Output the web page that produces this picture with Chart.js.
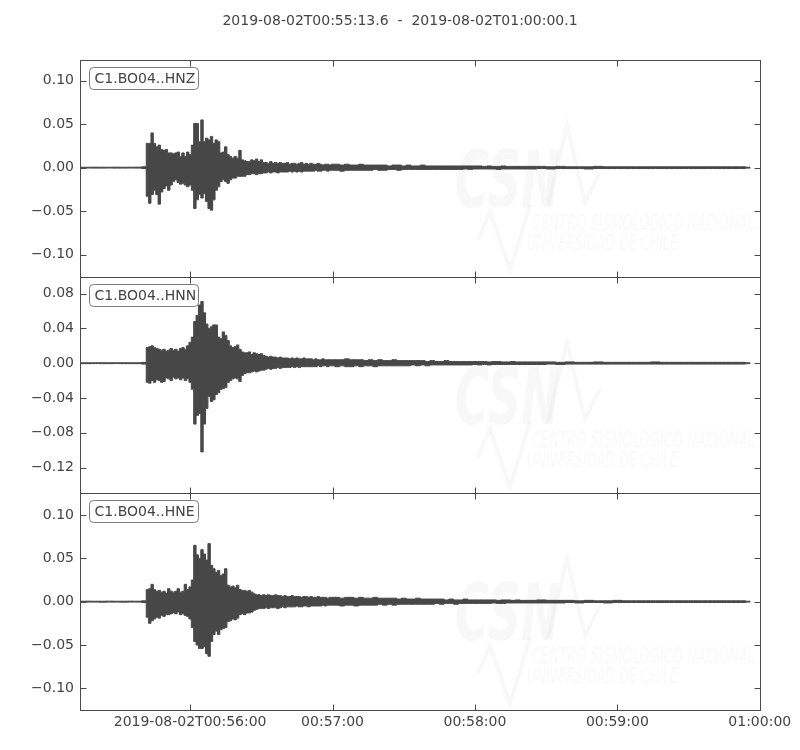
<!DOCTYPE html>
<html>
<head>
<meta charset="utf-8">
<script src="https://cdn.jsdelivr.net/npm/chart.js@4.4.1/dist/chart.umd.min.js"></script>
<style>
  html, body { margin: 0; padding: 0; background: #fff; }
  #wrap { width: 800px; height: 750px; }
</style>
</head>
<body>
<div id="wrap"><canvas id="sismo" width="800" height="750"></canvas></div>
<script>
// DATOS -------------------------------------------------------------
// segundos despues de 2019-08-02T00:55:00
const sampleSec = [14, 17, 20, 23, 26, 29, 32, 35, 38,
  41, 42, 43, 44, 45, 46, 47, 48, 49, 50,
  51, 52, 53, 54, 55, 56, 57, 58, 59, 60,
  61, 62, 63, 64, 65, 66, 67, 68, 69, 70,
  71, 72, 73, 74, 75, 76, 77, 78, 79, 80,
  81, 82, 83, 84, 85, 86, 87, 88, 89, 90,
  91, 92, 93, 94, 95, 96, 97, 98, 99, 100,
  101, 102, 103, 104, 105, 106, 107, 108, 109, 110,
  111, 112, 113, 114, 115, 116, 117, 118, 119, 120,
  122, 124, 126, 128, 130, 132, 134, 136, 138, 140,
  142, 144, 146, 148, 150, 152, 154, 156, 158, 160,
  162, 164, 166, 168, 170, 172, 174, 176, 178, 180,
  182, 184, 186, 188, 190, 192, 194, 196, 198, 200,
  204, 208, 212, 216, 220, 224, 228, 232, 236, 240, 244, 248,
  252, 256, 260, 264, 268, 272, 276, 280, 284, 288, 292, 296];

// picos por intervalo, en milesimas
const hnzMax = [0.5, 0.5, 0.6, 0.5, 0.5, 0.6, 0.5, 0.5, 0.6,
  1, 28, 28, 40, 28, 24, 26, 21, 20, 21,
  17, 17, 16, 17, 18, 13, 17, 13, 18, 15,
  26, 51, 51, 30, 55, 30, 34, 32, 36, 28,
  32, 30, 17, 18, 24, 15, 13, 11, 13, 11,
  20, 9, 8, 7, 7, 9, 8, 10, 7, 9,
  6, 6, 5, 7, 5, 6, 5, 6, 5, 5,
  6, 4, 5, 5, 4, 5, 6, 4, 5, 4,
  5, 4, 4, 5, 4, 3, 4, 4, 3, 4,
  4, 3, 4, 3, 3, 4, 3, 3, 3, 3, 3, 2, 3, 3, 2, 3, 2, 2, 3, 2,
  2, 2, 2, 2, 2, 2, 2, 2, 2, 2, 2, 1.5, 2, 1.5, 1.5, 2, 1.5, 1.5, 1.5, 1.5,
  1.5, 1.5, 1, 1.5, 1, 1, 1, 1.5, 1, 1, 1, 1, 1, 1, 1, 1, 1, 1, 1, 1, 1, 1, 1, 0.5];
const hnzMin = [-0.5, -0.4, -0.5, -0.5, -0.4, -0.5, -0.5, -0.4, -0.5,
  -1, -33, -41, -31, -26, -31, -42, -28, -24, -21,
  -26, -20, -16, -14, -17, -19, -18, -20, -22, -20,
  -26, -47, -37, -31, -35, -30, -39, -47, -49, -37,
  -26, -22, -16, -14, -16, -18, -14, -12, -12, -10,
  -10, -10, -10, -8, -8, -7, -7, -8, -7, -7,
  -6, -6, -5, -6, -5, -5, -6, -5, -5, -5,
  -5, -4, -5, -4, -5, -4, -5, -4, -4, -4,
  -4, -4, -3, -4, -4, -3, -3, -4, -3, -3,
  -3, -4, -3, -3, -3, -3, -3, -3, -2, -3, -3, -2, -2, -3, -2, -2, -2, -2, -2, -2,
  -2, -2, -2, -2, -2, -2, -2, -1.5, -2, -1.5, -1.5, -1.5, -1.5, -1.5, -2, -1.5, -1.5, -1.5, -1.5, -1.5,
  -1.5, -1, -1.5, -1, -1, -1, -1.5, -1, -1, -1, -1, -1, -1, -1, -1, -1, -1, -1, -1, -1, -1, -1, -1, -0.5];

const hnnMax = [0.5, 0.5, 0.5, 0.6, 0.5, 0.5, 0.6, 0.5, 0.5,
  1, 18, 19, 20, 18, 17, 16, 15, 16, 14,
  15, 17, 15, 16, 14, 17, 18, 16, 20, 24,
  30, 48, 55, 67, 71, 58, 45, 40, 42, 44,
  44, 30, 28, 36, 32, 26, 20, 18, 19, 21,
  16, 13, 12, 12, 13, 10, 12, 11, 10, 11,
  9, 8, 7, 8, 7, 7, 6, 7, 6, 6,
  6, 5, 6, 5, 6, 5, 5, 6, 5, 5,
  5, 4, 5, 4, 4, 5, 4, 4, 4, 4,
  4, 4, 5, 4, 4, 4, 3, 4, 3, 4, 3, 3, 4, 3, 3, 3, 3, 3, 3, 2,
  3, 2, 2, 3, 2, 2, 2, 2, 2, 2, 2, 2, 1.5, 2, 2, 1.5, 1.5, 2, 1.5, 1.5,
  1.5, 1.5, 1.5, 1, 1.5, 1, 1, 1.5, 1, 1, 1, 1, 1, 1.5, 1, 1, 1, 1, 1, 1, 1, 1, 1, 0.5];
const hnnMin = [-0.5, -0.5, -0.4, -0.5, -0.5, -0.4, -0.5, -0.5, -0.5,
  -1, -22, -23, -20, -22, -19, -20, -22, -21, -17,
  -18, -20, -16, -18, -17, -19, -17, -20, -18, -22,
  -30, -70, -60, -58, -102, -70, -52, -38, -44, -42,
  -36, -34, -30, -29, -28, -22, -20, -18, -17, -18,
  -21, -14, -12, -11, -11, -10, -9, -10, -9, -8,
  -8, -7, -6, -7, -6, -6, -5, -6, -5, -5,
  -5, -5, -4, -5, -4, -5, -4, -4, -4, -4,
  -4, -4, -4, -3, -4, -3, -3, -4, -3, -3,
  -4, -3, -4, -4, -3, -4, -3, -3, -4, -3, -3, -3, -3, -3, -3, -3, -2, -3, -2, -3,
  -2, -2, -2, -2, -2, -2, -2, -2, -2, -1.5, -2, -1.5, -2, -1.5, -1.5, -1.5, -1.5, -1.5, -1.5, -1.5,
  -1.5, -1.5, -1, -1.5, -1, -1, -1, -1, -1, -1, -1, -1, -1, -1, -1, -1, -1, -1, -1, -1, -1, -1, -1, -0.5];

const hneMax = [0.5, 0.6, 0.5, 0.5, 0.6, 0.5, 0.5, 0.6, 0.5,
  1, 14, 15, 20, 14, 12, 13, 11, 12, 10,
  15, 12, 11, 12, 15, 11, 12, 20, 14, 17,
  25, 65, 54, 50, 60, 55, 48, 67, 42, 38,
  34, 36, 30, 32, 38, 19, 17, 18, 16, 19,
  14, 13, 13, 12, 13, 11, 9, 8, 8, 7,
  8, 7, 8, 7, 7, 8, 7, 7, 6, 7,
  6, 6, 7, 6, 6, 6, 5, 6, 6, 5,
  6, 5, 5, 6, 5, 5, 5, 4, 5, 5,
  5, 4, 5, 5, 4, 5, 4, 4, 5, 4, 4, 4, 4, 3, 4, 3, 3, 4, 3, 3,
  3, 3, 3, 2, 3, 2, 2, 3, 2, 2, 2, 2, 2, 2, 1.5, 2, 2, 1.5, 2, 1.5,
  1.5, 2, 1.5, 1.5, 1.5, 1, 1.5, 1, 1, 1.5, 1, 1, 1, 1, 1, 1, 1, 1, 1, 1, 1, 1, 1, 0.5];
const hneMin = [-0.6, -0.5, -0.5, -0.6, -0.5, -0.5, -0.6, -0.5, -0.5,
  -1, -18, -25, -22, -20, -18, -19, -16, -17, -15,
  -15, -14, -13, -14, -12, -15, -14, -16, -17, -20,
  -30, -46, -50, -54, -54, -52, -60, -63, -46, -38,
  -34, -38, -32, -31, -30, -23, -22, -20, -21, -19,
  -15, -14, -15, -13, -13, -12, -10, -9, -8, -8,
  -8, -7, -8, -7, -7, -7, -8, -7, -6, -7,
  -6, -6, -6, -6, -5, -6, -6, -5, -5, -6,
  -5, -5, -5, -5, -5, -4, -5, -4, -4, -4,
  -4, -5, -4, -4, -5, -4, -4, -4, -4, -3, -4, -3, -4, -3, -3, -3, -3, -3, -3, -3,
  -3, -2, -3, -2, -2, -3, -2, -2, -2, -2, -2, -2, -2, -1.5, -2, -2, -1.5, -1.5, -1.5, -1.5,
  -1.5, -1.5, -1.5, -1.5, -1, -1.5, -1, -1, -1.5, -1, -1, -1, -1, -1, -1, -1, -1, -1, -1, -1, -1, -1, -1, -0.5];

const canales = ["C1.BO04..HNZ", "C1.BO04..HNN", "C1.BO04..HNE"];
const titulo = "2019-08-02T00:55:13.6  -  2019-08-02T01:00:00.1";

// EJES --------------------------------------------------------------
const xLimites = [13.6, 300.1];
const xTickSec = [60, 120, 180, 240, 300];
const xTickLabels = ["2019-08-02T00:56:00", "00:57:00", "00:58:00", "00:59:00", "01:00:00"];
const zLimites = [-0.1255, 0.124];
const nLimites = [-0.1496, 0.0995];
const eLimites = [-0.125, 0.125];
const zTicks = [-0.10, -0.05, 0.00, 0.05, 0.10];
const nTicks = [-0.12, -0.08, -0.04, 0.00, 0.04, 0.08];
const eTicks = [-0.10, -0.05, 0.00, 0.05, 0.10];

const FUENTE = "DejaVu Sans";
const TAM = 14;
const GRIS_TEXTO = "#444444";
const GRIS_TRAZA = "#474747";
const GRIS_MARCO = "#4a4a4a";

function puntos(valores) {
  return sampleSec.map((t, i) => ({ x: t, y: valores[i] / 1000 }));
}

function etiquetaY(v) {
  if (Math.abs(v) < 1e-9) return "0.00";
  return v < 0 ? "\u2212" + Math.abs(v).toFixed(2) : v.toFixed(2);
}

function ejeY(lim, ticks) {
  return {
    type: "linear",
    position: "left",
    stack: "sismo",
    stackWeight: 1,
    min: lim[0],
    max: lim[1],
    grid: { display: false, drawTicks: false },
    border: { display: false },
    afterBuildTicks: (s) => {
      s.ticks = ticks.map((v) => ({ value: v }));
    },
    afterFit: (s) => {
      s.width = 80;
    },
    ticks: {
      padding: 6,
      color: GRIS_TEXTO,
      font: { family: FUENTE, size: TAM },
      callback: etiquetaY,
    },
  };
}

// MARCA DE AGUA (CSN) -------------------------------------------------
function marcaAgua(ctx, top) {
  ctx.save();
  ctx.translate(0, top - 60);
  ctx.fillStyle = "rgba(0,0,0,0.028)";
  ctx.strokeStyle = "rgba(0,0,0,0.028)";
  ctx.textBaseline = "alphabetic";
  const ajustar = (txt, font, x, y, ancho) => {
    ctx.save();
    ctx.font = font;
    const w = ctx.measureText(txt).width;
    ctx.translate(x, y);
    ctx.scale(ancho / w, 1);
    ctx.fillText(txt, 0, 0);
    ctx.restore();
  };
  ajustar("CSN", "italic bold 78px '" + FUENTE + "'", 455, 207, 105);
  ajustar("CENTRO SISMOLÓGICO NACIONAL", "italic 22px '" + FUENTE + "'", 532, 230, 223);
  ajustar("UNIVERSIDAD DE CHILE", "italic 22px '" + FUENTE + "'", 527, 250, 151);
  ctx.lineWidth = 4;
  ctx.beginPath();
  ctx.moveTo(548, 205);
  ctx.lineTo(567, 125);
  ctx.lineTo(585, 203);
  ctx.lineTo(600, 172);
  ctx.stroke();
  ctx.beginPath();
  ctx.moveTo(478, 240);
  ctx.lineTo(490, 212);
  ctx.lineTo(510, 270);
  ctx.lineTo(530, 205);
  ctx.stroke();
  ctx.restore();
}

const marcoPlugin = {
  id: "marco",
  beforeDatasetsDraw(chart) {
    const ctx = chart.ctx;
    const a = chart.chartArea;
    ctx.save();
    ctx.beginPath();
    ctx.rect(a.left, a.top, a.right - a.left, a.bottom - a.top);
    ctx.clip();
    ["yZ", "yN", "yE"].forEach((id) => marcaAgua(ctx, chart.scales[id].top));
    ctx.restore();
  },
  afterDatasetsDraw(chart) {
    const ctx = chart.ctx;
    const a = chart.chartArea;
    const x = chart.scales.x;
    const L = 6;
    ctx.save();
    // titulo centrado en la figura
    ctx.fillStyle = GRIS_TEXTO;
    ctx.font = TAM + "px '" + FUENTE + "'";
    ctx.textAlign = "center";
    ctx.textBaseline = "middle";
    ctx.fillText(titulo, chart.width / 2, 21);

    ctx.lineWidth = 1;
    ["yZ", "yN", "yE"].forEach((id, k) => {
      const s = chart.scales[id];
      const top = Math.round(s.top) + 0.5;
      const bot = Math.round(s.bottom) + 0.5;
      const izq = Math.round(a.left) + 0.5;
      const der = Math.round(a.right) + 0.5;
      ctx.strokeStyle = GRIS_MARCO;
      ctx.strokeRect(izq, top, der - izq, bot - top);
      ctx.beginPath();
      s.ticks.forEach((t) => {
        const py = Math.round(s.getPixelForValue(t.value)) + 0.5;
        ctx.moveTo(izq, py); ctx.lineTo(izq + L, py);
        ctx.moveTo(der, py); ctx.lineTo(der - L, py);
      });
      x.ticks.forEach((t) => {
        const px = Math.round(x.getPixelForValue(t.value)) + 0.5;
        ctx.moveTo(px, top); ctx.lineTo(px, top + L);
        ctx.moveTo(px, bot); ctx.lineTo(px, bot - L);
      });
      ctx.stroke();

      // recuadro con el nombre del canal
      const bx = izq + 9, by = top + 7, bw = 109, bh = 22, r = 4;
      ctx.beginPath();
      ctx.moveTo(bx + r, by);
      ctx.arcTo(bx + bw, by, bx + bw, by + bh, r);
      ctx.arcTo(bx + bw, by + bh, bx, by + bh, r);
      ctx.arcTo(bx, by + bh, bx, by, r);
      ctx.arcTo(bx, by, bx + bw, by, r);
      ctx.closePath();
      ctx.fillStyle = "#ffffff";
      ctx.fill();
      ctx.strokeStyle = "#7a7a7a";
      ctx.stroke();
      ctx.fillStyle = GRIS_TEXTO;
      ctx.textBaseline = "middle";
      ctx.textAlign = "left";
      ctx.fillText(canales[k], bx + 5, by + bh / 2 + 0.5);
    });
    ctx.restore();
  },
};

// GRAFICO -----------------------------------------------------------
// cada canal: picos superiores rellenos hasta los picos inferiores
function canal(id, maximos, minimos) {
  const base = {
    yAxisID: id,
    borderColor: GRIS_TRAZA,
    backgroundColor: GRIS_TRAZA,
    borderWidth: 1,
    pointRadius: 0,
    stepped: "middle",
  };
  return [
    { ...base, label: id + "-max", data: puntos(maximos), fill: "+1" },
    { ...base, label: id + "-min", data: puntos(minimos), fill: false },
  ];
}

new Chart(document.getElementById("sismo"), {
  type: "line",
  data: {
    datasets: [
      ...canal("yZ", hnzMax, hnzMin),
      ...canal("yN", hnnMax, hnnMin),
      ...canal("yE", hneMax, hneMin),
    ],
  },
  options: {
    responsive: false,
    animation: false,
    devicePixelRatio: 1,
    parsing: false,
    normalized: true,
    layout: { padding: { left: 0, right: 40, top: 60, bottom: 0 } },
    plugins: {
      legend: { display: false },
      tooltip: { enabled: false },
      title: { display: false },
    },
    scales: {
      x: {
        type: "linear",
        position: "bottom",
        min: xLimites[0],
        max: xLimites[1],
        grid: { display: false, drawTicks: false },
        border: { display: false },
        afterBuildTicks: (s) => {
          s.ticks = xTickSec.map((v) => ({ value: v }));
        },
        afterFit: (s) => {
          s.height = 40;
        },
        ticks: {
          autoSkip: false,
          maxRotation: 0,
          padding: 4,
          color: GRIS_TEXTO,
          font: { family: FUENTE, size: TAM },
          callback: (v) => xTickLabels[xTickSec.indexOf(v)],
        },
      },
      yE: ejeY(eLimites, eTicks),
      yN: ejeY(nLimites, nTicks),
      yZ: ejeY(zLimites, zTicks),
    },
  },
  plugins: [marcoPlugin],
});
</script>
</body>
</html>
